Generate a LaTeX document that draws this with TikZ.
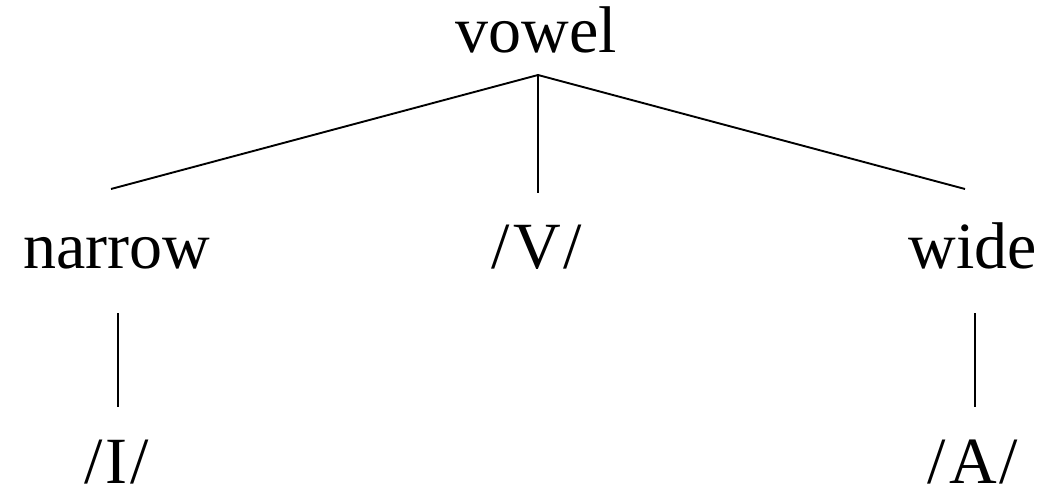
\documentclass[tikz,border=0pt]{standalone}
\usepackage{fontspec}
\setmainfont{Liberation Serif}
\begin{document}
\begin{tikzpicture}[x=1pt,y=-1pt,line width=1.9pt]
\tikzset{lbl/.style={anchor=base,inner sep=0pt,font=\fontsize{66}{70}\selectfont}}
\useasboundingbox (0,0) rectangle (1044,497);
% labels
\node[lbl] (vowel) at (536,53) {vowel};
\node[lbl] (narrow) at (117,269) {narrow};
\node[lbl] (vv) at (537,269) {/\kern3pt V\kern3pt/};
\node[lbl] (wide) at (973,269) {wide};
\node[lbl] (ii) at (117,483) {/\kern3pt I\kern3pt/};
\node[lbl] (aa) at (973,483) {/\kern3pt A\kern3pt/};
% branch ends
\coordinate (top) at (538,75);
\coordinate (narrowtop) at (111,189); \coordinate (vvtop) at (538,193); \coordinate (widetop) at (965,189);
\coordinate (narrowfoot) at (118,313); \coordinate (iitop) at (118,407);
\coordinate (widefoot) at (975,313); \coordinate (aatop) at (975,407);
\draw (top) -- (narrowtop); \draw (top) -- (vvtop); \draw (top) -- (widetop);
\draw (narrowfoot) -- (iitop);
\draw (widefoot) -- (aatop);
\end{tikzpicture}
\end{document}
